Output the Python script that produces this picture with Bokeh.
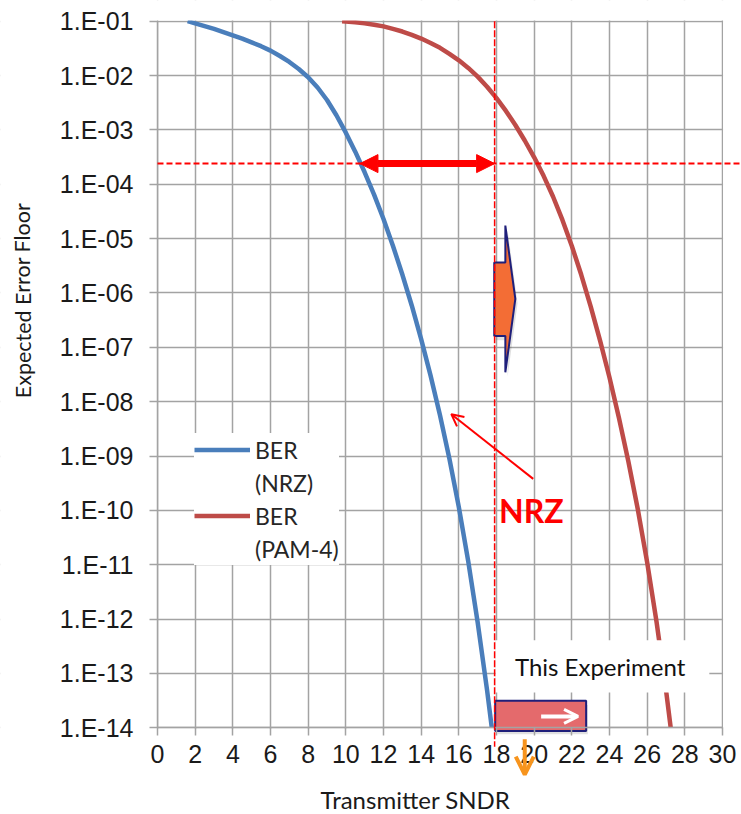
from bokeh.plotting import figure
from bokeh.models import (Range1d, FixedTicker, Legend, LegendItem, Arrow,
                          NormalHead, OpenHead, Label)
from bokeh.embed import file_html
from bokeh.resources import INLINE

# ---------------- data ----------------
snr_nrz = [1.6, 2.0, 2.5, 3.0, 3.5, 4.0, 4.5, 5.0, 5.5, 6.0, 6.5, 7.0, 7.5,
           8.0, 8.5, 9.0, 9.5, 10.0, 10.5, 11.0, 11.5, 12.0, 12.5, 13.0,
           13.5, 14.0, 14.5, 15.0, 15.5, 16.0, 16.5, 17.0, 17.5, 17.75]
ber_nrz = [1e-1, 9.12e-2, 8.13e-2, 7.24e-2, 6.31e-2, 5.50e-2, 4.79e-2,
           4.07e-2, 3.47e-2, 2.88e-2, 2.29e-2, 1.78e-2, 1.32e-2, 9.33e-3,
           6.03e-3, 3.55e-3, 1.86e-3, 8.91e-4, 3.98e-4, 1.66e-4, 6.46e-5,
           2.29e-5, 7.41e-6, 2.19e-6, 5.89e-7, 1.41e-7, 3.02e-8, 5.62e-9,
           8.91e-10, 1.15e-10, 1.15e-11, 8.71e-13, 4.90e-14, 1e-14]

snr_pam4 = [9.8, 10.0, 10.5, 11.0, 11.5, 12.0, 12.5, 13.0, 13.5, 14.0, 14.5,
            15.0, 15.5, 16.0, 16.5, 17.0, 17.5, 18.0, 18.5, 19.0, 19.5,
            20.0, 20.5, 21.0, 21.5, 22.0, 22.5, 23.0, 23.5, 24.0, 24.5,
            25.0, 25.5, 26.0, 26.5, 27.0, 27.25]
ber_pam4 = [1e-1, 9.89e-2, 9.55e-2, 9.12e-2, 8.61e-2, 8.04e-2, 7.24e-2,
            6.46e-2, 5.62e-2, 4.79e-2, 3.98e-2, 3.24e-2, 2.51e-2, 1.91e-2,
            1.38e-2, 9.55e-3, 6.24e-3, 3.85e-3, 2.24e-3, 1.23e-3, 6.38e-4,
            3.13e-4, 1.43e-4, 5.96e-5, 2.21e-5, 7.33e-6, 2.16e-6, 5.69e-7,
            1.33e-7, 2.79e-8, 5.07e-9, 8.04e-10, 1.06e-10, 1.11e-11,
            8.81e-13, 4.95e-14, 1e-14]

x_ticks = [0, 2, 4, 6, 8, 10, 12, 14, 16, 18, 20, 22, 24, 26, 28, 30]
y_ticks = [1e-1, 1e-2, 1e-3, 1e-4, 1e-5, 1e-6, 1e-7, 1e-8, 1e-9, 1e-10,
           1e-11, 1e-12, 1e-13, 1e-14]
y_tick_labels = ["1.E-01", "1.E-02", "1.E-03", "1.E-04", "1.E-05", "1.E-06",
                 "1.E-07", "1.E-08", "1.E-09", "1.E-10", "1.E-11", "1.E-12",
                 "1.E-13", "1.E-14"]

fec_limit = 2.4e-4      # horizontal dashed threshold
tx_sndr = 17.9          # vertical dashed line (this experiment)
nrz_at_fec = 10.75      # NRZ SNDR at the threshold

# ---------------- styles / layout ----------------
BLUE = "#4A7EBB"
RED = "#BE4B48"
GRID = "#A3A3A3"
NAVY = "#1F1F7A"
ORANGE = "#F36D35"
TICK_FONT = "Liberation Sans"
TXT_FONT = "Lato"
W, H = 741, 814
X_LO, X_HI = -8.336, 31.009          # frame fills the canvas
Y_LO, Y_HI = 10 ** -15.595, 10 ** -0.619

p = figure(width=W, height=H, x_range=Range1d(X_LO, X_HI),
           y_range=Range1d(Y_LO, Y_HI), y_axis_type="log",
           output_backend="svg", toolbar_location=None, min_border=0)
p.background_fill_color = "white"
p.border_fill_color = "white"
p.outline_line_color = None

p.xaxis.fixed_location = 1e-14
p.yaxis.fixed_location = 0
p.xaxis.bounds = (0, 30)
p.yaxis.bounds = (1e-14, 1e-1)
p.xaxis.ticker = FixedTicker(ticks=x_ticks)
p.yaxis.ticker = FixedTicker(ticks=y_ticks)
p.yaxis.major_label_overrides = dict(zip(y_ticks, y_tick_labels))
p.xgrid.ticker = FixedTicker(ticks=x_ticks)
p.ygrid.ticker = FixedTicker(ticks=y_ticks)
p.grid.grid_line_color = GRID
p.grid.grid_line_width = 1.5

for ax in (p.xaxis, p.yaxis):
    ax.axis_line_color = GRID
    ax.axis_line_width = 1.5
    ax.major_tick_line_color = GRID
    ax.major_tick_line_width = 1.5
    ax.major_tick_out = 8
    ax.major_tick_in = 0
    ax.minor_tick_line_color = None
    ax.major_label_text_font = TICK_FONT
    ax.major_label_text_font_size = "25px"
    ax.major_label_text_color = "#1A1A1A"
p.yaxis.major_label_standoff = 16
p.xaxis.major_label_standoff = 9

# curves
r_nrz = p.line(snr_nrz, ber_nrz, line_color=BLUE, line_width=4.5,
               line_join="round")
r_pam = p.line(snr_pam4, ber_pam4, line_color=RED, line_width=4.5,
               line_join="round")
d1 = p.line([], [], line_alpha=0)
d2 = p.line([], [], line_alpha=0)

# white margins outside the plotting area (hide grid beyond the axes)
p.quad(left=[X_LO - 1, X_LO - 1, X_LO - 1, 30.03],
       right=[-0.03, X_HI + 1, X_HI + 1, X_HI + 1],
       bottom=[Y_LO / 10, Y_LO / 10, 10 ** -0.985, Y_LO / 10],
       top=[Y_HI * 10, 10 ** -14.015, Y_HI * 10, Y_HI * 10],
       fill_color="white", line_color=None)

legend = Legend(items=[LegendItem(label="BER", renderers=[r_nrz]),
                       LegendItem(label="(NRZ)", renderers=[d1]),
                       LegendItem(label="BER", renderers=[r_pam]),
                       LegendItem(label="(PAM-4)", renderers=[d2])],
                location=(194, 249), label_text_font=TXT_FONT,
                label_text_font_size="23px", label_text_color="#262626",
                glyph_width=56, glyph_height=33, label_height=33,
                label_standoff=5, spacing=0, padding=8, margin=0,
                border_line_color=None, background_fill_color="white",
                background_fill_alpha=1.0)
p.add_layout(legend)

# dashed guide lines
p.add_layout(Arrow(end=None, x_start=0, x_end=31.2, y_start=fec_limit,
                   y_end=fec_limit, line_color="red", line_width=2,
                   line_dash="6 3"))
p.add_layout(Arrow(end=None, x_start=tx_sndr, x_end=tx_sndr, y_start=1e-1,
                   y_end=10 ** -14.35, line_color="red", line_width=1.5,
                   line_dash="7 2"))

# double arrow between NRZ at threshold and this experiment
p.add_layout(Arrow(start=NormalHead(size=18, fill_color="red", line_color="red"),
                   end=NormalHead(size=18, fill_color="red", line_color="red"),
                   x_start=nrz_at_fec, x_end=tx_sndr, y_start=fec_limit,
                   y_end=fec_limit, line_color="red", line_width=7))

# orange block arrow
bx0, bx1, bx2 = tx_sndr - 0.02, tx_sndr + 0.57, tx_sndr + 1.1
p.patch([bx0 + 0.12, bx1 + 0.12, bx1 + 0.12, bx2 + 0.12, bx1 + 0.12, bx1 + 0.12, bx0 + 0.12],
        [10 ** -5.52, 10 ** -5.52, 10 ** -4.84, 10 ** -6.19, 10 ** -7.54, 10 ** -6.87, 10 ** -6.87],
        fill_color="#000000", fill_alpha=0.12, line_color=None)
p.patch([bx0, bx1, bx1, bx2, bx1, bx1, bx0],
        [10 ** -5.44, 10 ** -5.44, 10 ** -4.76, 10 ** -6.11, 10 ** -7.46,
         10 ** -6.79, 10 ** -6.79],
        fill_color=ORANGE, line_color=NAVY, line_width=2)

# thin red pointer to NRZ curve
p.add_layout(Arrow(end=OpenHead(size=12, line_color="red", line_width=2),
                   x_start=19.95, y_start=10 ** -9.42, x_end=15.6,
                   y_end=10 ** -8.23, line_color="red", line_width=2))
p.add_layout(Label(x=19.85, y=10 ** -10.0, text="NRZ", text_font=TXT_FONT,
                   text_font_style="bold", text_font_size="32px",
                   text_color="red", text_align="center",
                   text_baseline="middle"))

# "This Experiment" box
p.quad(left=17.95, right=29.3, bottom=10 ** -13.35, top=10 ** -12.39,
       fill_color="white", line_color=None)
p.add_layout(Label(x=23.5, y=10 ** -12.87, text="This Experiment",
                   text_font=TXT_FONT, text_font_size="24px",
                   text_color="#111111", text_align="center",
                   text_baseline="middle"))

# red experiment bar
p.quad(left=18.05, right=22.85, bottom=10 ** -14.12, top=10 ** -13.58,
       fill_color="#000000", fill_alpha=0.12, line_color=None)
p.quad(left=17.93, right=22.76, bottom=10 ** -14.06, top=10 ** -13.5,
       fill_color="#E46A6C", line_color=NAVY, line_width=2)
p.add_layout(Arrow(end=OpenHead(size=14, line_color="white", line_width=3),
                   x_start=20.37, x_end=22.33, y_start=10 ** -13.79,
                   y_end=10 ** -13.79, line_color="white", line_width=4))

# orange arrow below the axis
p.add_layout(Arrow(end=OpenHead(size=18, line_color="#F7941D", line_width=4),
                   x_start=19.5, x_end=19.5, y_start=10 ** -14.21,
                   y_end=10 ** -14.86, line_color="#F7941D", line_width=4))

# axis titles
p.add_layout(Label(x=22, y=514, x_units="screen", y_units="screen",
                   text="Expected Error Floor", angle=1.5708,
                   text_font=TXT_FONT, text_font_size="21.5px",
                   text_color="#1A1A1A", text_align="center",
                   text_baseline="middle"))
p.add_layout(Label(x=415, y=15, x_units="screen", y_units="screen",
                   text="Transmitter SNDR", text_font=TXT_FONT,
                   text_font_size="24px", text_color="#1A1A1A",
                   text_align="center", text_baseline="middle"))

open("out.html", "w").write(file_html(p, INLINE))
